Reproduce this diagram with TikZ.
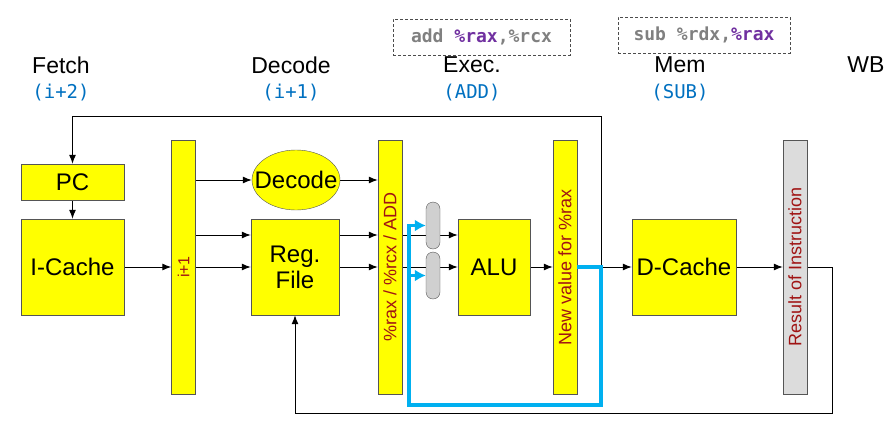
\documentclass[tikz,border=0pt]{standalone}
\usepackage{fontspec}
\setmainfont{Liberation Sans}
\setmonofont{DejaVu Sans Mono}
\usetikzlibrary{arrows.meta,positioning,backgrounds,shapes.geometric}
\definecolor{boxcol}{RGB}{255,255,0}
\definecolor{edgecol}{RGB}{85,85,85}
\definecolor{regtext}{RGB}{160,20,20}
\definecolor{stagecol}{RGB}{0,112,192}
\definecolor{fwdcol}{RGB}{0,176,240}
\definecolor{codecol}{RGB}{128,128,128}
\definecolor{regcol}{RGB}{112,48,160}
\definecolor{wbcol}{RGB}{220,220,220}
\definecolor{muxcol}{RGB}{208,208,208}

\begin{document}
\begin{tikzpicture}[x=1pt,y=-1pt,
  blk/.style={draw=edgecol,fill=boxcol,inner sep=0pt,align=center,minimum height=96pt,font=\fontsize{24}{26}\selectfont},
  pipe/.style={draw=edgecol,fill=boxcol,inner sep=0pt,minimum width=24pt,minimum height=254pt,text=regtext,font=\fontsize{18}{20}\selectfont},
  mux/.style={draw=edgecol,fill=muxcol,rounded corners=7pt,inner sep=0pt,minimum width=14pt,minimum height=47pt},
  arr/.style={line width=1pt,-{Latex[length=9pt,width=7pt]}},
  fwd/.style={fwdcol,line width=3.5pt,-{Latex[length=11pt,width=12pt]}},
  stage/.style={font=\fontsize{23}{26}\selectfont},
  sub/.style={text=stagecol,font=\ttfamily\fontsize{19}{21}\selectfont},
  code/.style={draw=black!70,densely dashed,minimum height=36pt,text=codecol,font=\ttfamily\bfseries\fontsize{18}{20}\selectfont}]
  \useasboundingbox (0,0) rectangle (896,424);
  % stage headings
  \foreach \n/\x/\t/\s in {fe/61/Fetch/(i+2),de/291/Decode/(i+1),ex/472/Exec./(ADD),me/680/Mem/(SUB)}{
    \node[stage] (\n) at (\x,65) {\t};
    \node[sub] (\n-s) at (\x,93) {\s};}
  \node[stage] (wb) at (866,65) {WB};
  \node[code,minimum width=177pt] (cadd) at (481.5,37) {add \textcolor{regcol}{\%rax},\%rcx};
  \node[code,minimum width=172pt] (csub) at (704,35) {sub \%rdx,\textcolor{regcol}{\%rax}};
  % datapath
  \node[blk,minimum width=103pt,minimum height=36pt] (pc) at (72.5,182) {PC};
  \node[blk,minimum width=103pt] (ic) at (72.5,267) {I-Cache};
  \node[pipe,font=\fontsize{16}{18}\selectfont] (r1) at (183.5,267) {\rotatebox{90}{i+1}};
  \node[blk,ellipse,inner xsep=-11pt,minimum width=88pt,minimum height=60pt] (dec) at (296,180) {Decode};
  \node[blk,minimum width=88pt] (rf) at (295,267) {Reg.\\File};
  \node[pipe] (r2) at (390,267) {\rotatebox{90}{\%rax / \%rcx / ADD}};
  \node[mux] (ma) at (433,225.5) {};
  \node[mux] (mb) at (433,275.5) {};
  \node[blk,minimum width=72pt] (alu) at (494,267) {ALU};
  \node[pipe] (r3) at (565,267) {\rotatebox{90}{New value for \%rax}};
  \node[blk,minimum width=104pt] (dc) at (684,267) {D-Cache};
  \node[pipe,fill=wbcol] (r4) at (795,267) {\rotatebox{90}{Result of Instruction}};
  \coordinate (tap) at (601,267);
  \coordinate (top) at (601,116);
  \coordinate (wbr) at (832,267);
  \coordinate (wbb) at (832,413);
  \coordinate (fwdd) at (601,405);
  \coordinate (fwdl) at (409,405);
  \begin{scope}[on background layer]
    \draw[arr] (tap) -- (top) -| (pc);
    \draw[arr] (pc) -- (ic);
    \draw[arr] (ic) -- (r1);
    \draw[arr] (r1.east |- dec) -- (dec);
    \draw[arr] (dec) -- (dec -| r2.west);
    \foreach \d in {0,32}{
      \draw[arr] ([yshift=\d]r1.east) -- ([yshift=\d]rf.west);
      \draw[arr] ([yshift=\d]rf.east) -- ([yshift=\d]r2.west);
      \draw[arr] ([yshift=\d]r2.east) -- ([yshift=\d]alu.west);}
    \draw[arr] (alu) -- (r3);
    \draw[arr] (r3) -- (dc);
    \draw[arr] (dc) -- (r4);
    \draw[arr] (r4) -- (wbr) -- (wbb) -| (rf);
  \end{scope}
  % forwarding path
  \draw[fwd] (r3) -- (tap) -- (fwdd) -- (fwdl) |- (ma);
  \draw[fwd] (fwdl |- mb) -- (mb);
\end{tikzpicture}
\end{document}
